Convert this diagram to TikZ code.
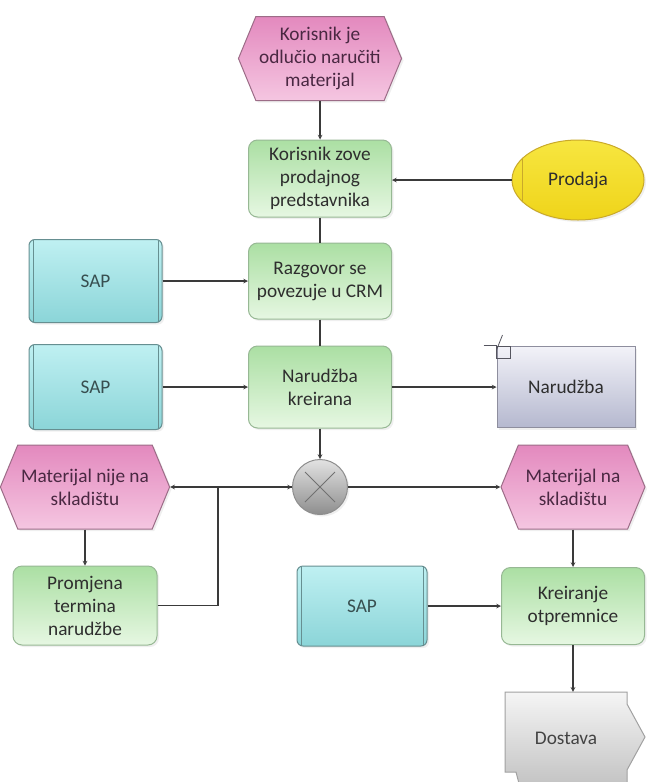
\documentclass[tikz,border=0pt]{standalone}
\usepackage{fontspec}
\setmainfont{Carlito}
\usepackage{tikz}
\usetikzlibrary{arrows}
\usetikzlibrary{positioning}
\usetikzlibrary{shapes.geometric,shapes.symbols,shadows}

\definecolor{pinktop}{HTML}{E389BE}
\definecolor{pinkbot}{HTML}{F5C6E1}
\definecolor{pinkline}{HTML}{9C6C87}
\definecolor{pinktxt}{HTML}{4A2842}
\definecolor{greentop}{HTML}{ABDFA3}
\definecolor{greenbot}{HTML}{E6F7E2}
\definecolor{greenline}{HTML}{97B894}
\definecolor{saptop}{HTML}{BFF0F2}
\definecolor{sapbot}{HTML}{8BD5D8}
\definecolor{sapline}{HTML}{668F91}
\definecolor{yellowtop}{HTML}{F7E640}
\definecolor{yellowbot}{HTML}{EFD41A}
\definecolor{yellowline}{HTML}{C9A92A}
\definecolor{doctop}{HTML}{F2F2F8}
\definecolor{docbot}{HTML}{B5B8CF}
\definecolor{docline}{HTML}{8E8E9E}
\definecolor{xortop}{HTML}{E2E2E2}
\definecolor{xorbot}{HTML}{8E8E8E}
\definecolor{greytop}{HTML}{F5F5F5}
\definecolor{greybot}{HTML}{BEBEBE}
\definecolor{txt}{HTML}{2E2E2E}
\definecolor{conline}{HTML}{3A3A3A}

\begin{document}
\begin{tikzpicture}[x=1pt,y=-1pt,>=stealth,
	every node/.style={font=\fontsize{19.3}{23}\selectfont, text=txt, align=center},
	softshadow/.style={drop shadow={opacity=.12, shadow xshift=2pt, shadow yshift=-2pt}},
	event/.style={signal, signal to=west and east, signal pointer angle=135, draw=pinkline, line width=1pt,
		top color=pinktop, bottom color=pinkbot, text=pinktxt, minimum height=84pt, softshadow},
	function/.style={rectangle, rounded corners=9pt, draw=greenline, line width=1pt,
		top color=greentop, bottom color=greenbot, minimum width=143pt, minimum height=77pt, softshadow},
	system/.style={rectangle, rounded corners=6pt, draw=sapline, line width=1pt,
		top color=saptop, bottom color=sapbot, text=sapline!55!black, minimum width=133pt, minimum height=83pt, softshadow,
		path picture={
			\draw[sapline, line width=1pt] ([xshift=4pt]path picture bounding box.north west) -- ([xshift=4pt]path picture bounding box.south west);
			\draw[sapline, line width=1pt] ([xshift=-4pt]path picture bounding box.north east) -- ([xshift=-4pt]path picture bounding box.south east);}},
	unit/.style={ellipse, draw=yellowline, line width=1pt, top color=yellowtop, bottom color=yellowbot,
		minimum width=132pt, minimum height=80pt, softshadow,
		path picture={
			\draw[yellowline, line width=1pt] ([xshift=10pt]path picture bounding box.north west) -- ([xshift=10pt]path picture bounding box.south west);}},
	document/.style={rectangle, draw=docline, line width=1pt, top color=doctop, bottom color=docbot,
		minimum width=138pt, minimum height=81pt, softshadow},
	xorgate/.style={circle, draw=xorbot, line width=1pt, top color=xortop, bottom color=xorbot, minimum size=55pt, softshadow,
		path picture={
			\draw[xorbot!80!black, line width=1pt] ([shift={(-15pt,15pt)}]path picture bounding box.center) -- ([shift={(15pt,-15pt)}]path picture bounding box.center);
			\draw[xorbot!80!black, line width=1pt] ([shift={(-15pt,-15pt)}]path picture bounding box.center) -- ([shift={(15pt,15pt)}]path picture bounding box.center);}},
	con/.style={draw=conline, line width=1.1pt}
	]
\fill[white] (0,0) rectangle (649,782);
\useasboundingbox (0,0) rectangle (649,782);

% column in the middle
\node[event, minimum width=152pt] (start) at (320,58.5) {Korisnik je\\odlučio naručiti\\materijal};
\node[function] (korisnik) at (320,178.5) {Korisnik zove\\prodajnog\\predstavnika};
\node[unit] (prodaja) at (578,180) {Prodaja};
\node[function, minimum height=76pt] (razgovor) at (320,281) {Razgovor se\\povezuje u CRM};
\node[system] (sap1) at (95.5,281) {SAP};
\node[function, minimum height=82pt] (kreirana) at (320,387) {Narudžba\\kreirana};
\node[system, minimum height=85pt] (sap2) at (95.5,387) {SAP};
\node[document] (narudzba) at (566,387) {Narudžba};
\draw[docline!60!black, line width=.9pt] (narudzba.north west) rectangle ++(14,12);
\draw[docline!60!black, line width=.8pt] ([shift={(-13pt,1pt)}]narudzba.north west) -- ([shift={(0pt,1pt)}]narudzba.north west);
\draw[docline!60!black, line width=.8pt] ([shift={(0pt,-4pt)}]narudzba.north west) -- ([shift={(6pt,11pt)}]narudzba.north west);

% split
\node[xorgate] (xor) at (320,487) {};
\node[event, minimum width=149pt] (nijena) at (85,487) {Materijal nije na\\skladištu};
\node[event, minimum width=144pt] (na) at (573,487) {Materijal na\\skladištu};
\node[function, minimum width=144pt, minimum height=79pt] (promjena) at (85,605.5) {Promjena\\termina\\narudžbe};
\node[system, minimum width=130pt, minimum height=80pt] (sap3) at (362,606) {SAP};
\node[function, minimum height=77pt] (otpremnica) at (573,606) {Kreiranje\\otpremnice};
\coordinate (spoj) at (218,487);

% product
\shade[top color=greytop, bottom color=greybot, draw=greybot!85!black, line width=1pt]
	(505,692) -- (627,692) -- (627,704) -- (645,737) -- (627,770) -- (627,795) -- (522,795) -- (516,772) -- (505,772) -- cycle;
\node[minimum width=122pt, minimum height=92pt, text=txt!90] (dostava) at (566,738) {Dostava};

\draw[con,->] (start.south) -- (korisnik.north);
\draw[con,->] (prodaja.west) -- (prodaja.west -| korisnik.east);
\draw[con] (korisnik.south) -- (razgovor.north);
\draw[con,->] (sap1.east) -- (razgovor.west);
\draw[con] (razgovor.south) -- (kreirana.north);
\draw[con,->] (sap2.east) -- (kreirana.west);
\draw[con,->] (kreirana.east) -- (narudzba.west);
\draw[con,->] (kreirana.south) -- (xor.north);
\draw[con,->] (xor.west) -- (nijena.east);
\draw[con,->] (xor.east) -- (na.west);
\draw[con,->] (nijena.south) -- (promjena.north);
\draw[con,->] (promjena.east) -| (spoj) -- (xor.west);
\draw[con,->] (na.south) -- (otpremnica.north);
\draw[con,->] (sap3.east) -- (otpremnica.west);
\draw[con,->] (otpremnica.south) -- (otpremnica.south |- dostava.north);
\end{tikzpicture}
\end{document}
